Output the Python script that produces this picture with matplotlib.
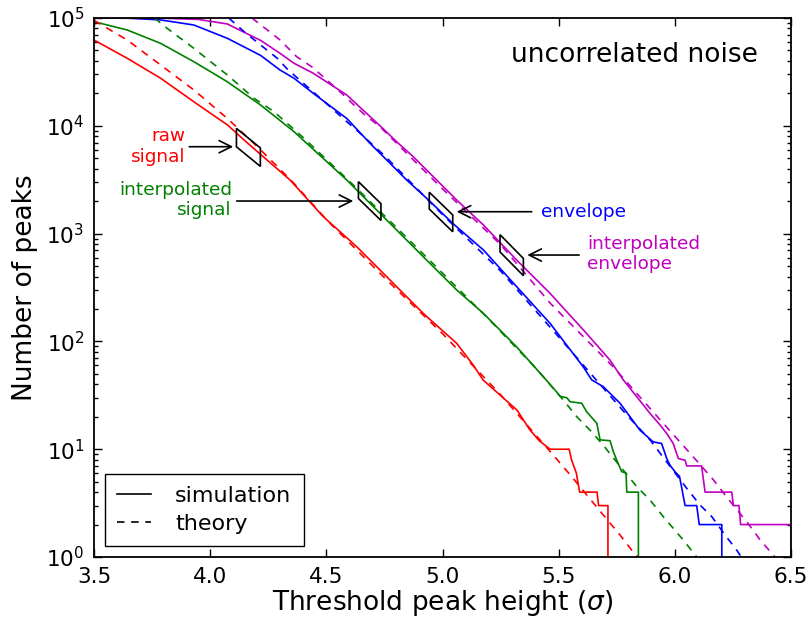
import numpy as np
import matplotlib
matplotlib.use("Agg")
import matplotlib.pyplot as plt
from matplotlib.patches import Polygon
from matplotlib.lines import Line2D

# simulation curves (solid)
raw_x = [3.50, 3.643, 3.787, 3.930, 4.074, 4.146, 4.344, 4.487, 4.631, 4.774, 4.917,
         5.061, 5.133, 5.174, 5.321, 5.377, 5.416, 5.463, 5.545, 5.555, 5.576, 5.59,
         5.665, 5.672, 5.712, 5.73]
raw_y = [62500, 42300, 27600, 16700, 10200, 7380, 3140, 1435, 755, 371, 182,
         96, 60, 44, 23, 15, 12, 10, 10, 8, 6, 4,
         4, 3, 3, 0]

isig_x = [3.50, 3.643, 3.787, 3.930, 4.074, 4.217, 4.361, 4.588, 4.774, 4.917, 5.061,
          5.176, 5.319, 5.434, 5.491, 5.506, 5.535, 5.549, 5.599, 5.62, 5.664, 5.678,
          5.721, 5.735, 5.75, 5.771, 5.79, 5.793, 5.843, 5.853]
isig_y = [92500, 77400, 58200, 39300, 25600, 15600, 8820, 3140, 1245, 611, 300,
          182, 89, 47, 34, 31, 30, 27.6, 26.7, 22.3, 17.4, 12.2,
          12, 9.5, 7.9, 6.2, 6, 4, 4, 0]

env_x = [3.50, 3.65, 3.787, 3.93, 4.074, 4.217, 4.30, 4.361, 4.444, 4.588, 4.688,
         4.731, 4.846, 4.943, 5.044, 5.176, 5.319, 5.463, 5.606, 5.642, 5.692, 5.764,
         5.807, 5.85, 5.907, 5.943, 5.965, 5.979, 6.0, 6.02, 6.044, 6.094, 6.105,
         6.202, 6.212]
env_y = [99900, 99500, 96000, 86100, 64800, 45000, 33000, 27600, 20000, 11700, 6880,
         5560, 3140, 2020, 1245, 705, 322, 147, 58, 44, 38, 26.7,
         20, 15, 11.7, 11.3, 8.2, 7.1, 6.2, 5.6, 3, 3, 2,
         2, 0]

ienv_x = [3.50, 3.80, 3.95, 4.074, 4.217, 4.301, 4.361, 4.444, 4.588, 4.731, 4.81,
          4.874, 5.061, 5.176, 5.319, 5.463, 5.606, 5.721, 5.75, 5.778, 5.836, 5.893,
          5.936, 5.965, 5.993, 6.015, 6.044, 6.051, 6.115, 6.13, 6.245, 6.252, 6.276,
          6.283, 6.5, 6.5]
ienv_y = [100000, 99500, 97000, 88000, 62000, 47000, 38000, 30700, 19300, 10000, 6880,
          5170, 2050, 1202, 569, 279, 128, 67, 54, 44, 30.7, 21.5,
          16.8, 14, 11.3, 8.2, 7.9, 7, 7, 4, 4, 3, 3,
          2, 2, 0]

# theory curves (dashed)
raw_th_x = [3.50, 3.643, 3.787, 3.930, 4.074, 4.20, 4.35, 4.5, 4.75, 5.0, 5.25,
            5.477, 5.549, 5.621, 5.692, 5.764, 5.814, 5.85]
raw_th_y = [95000, 62500, 36600, 21500, 11700, 6500, 3100, 1350, 390, 118, 32,
            8.8, 5.8, 3.76, 2.45, 1.6, 1.16, 0.95]

isig_th_x = [3.76, 3.815, 3.930, 4.074, 4.189, 4.275, 4.40, 4.60, 4.80, 5.0, 5.2,
             5.4, 5.52, 5.578, 5.635, 5.692, 5.743, 5.836, 5.893, 5.95, 6.036, 6.094, 6.12]
isig_th_y = [100000, 80200, 52300, 29600, 18000, 13500, 7800, 3050, 1150, 430, 160,
             57, 28.6, 20, 15, 10.9, 7.9, 4.5, 3.38, 2.37, 1.44, 1.0, 0.85]

env_th_x = [4.08, 4.146, 4.217, 4.289, 4.329, 4.401, 4.459, 4.516, 4.58, 4.638, 4.75,
            5.0, 5.25, 5.5, 5.793, 5.893, 6.051, 6.108, 6.159, 6.216, 6.266, 6.30]
env_th_y = [100000, 74700, 56200, 42300, 34100, 24800, 19300, 15000, 11300, 8810, 5300,
            1500, 450, 110, 20.8, 12.2, 4.34, 3.04, 2.37, 1.6, 1.16, 0.9]

ienv_th_x = [4.18, 4.246, 4.301, 4.372, 4.437, 4.494, 4.559, 4.616, 4.666, 4.731, 5.0,
             5.25, 5.463, 5.735, 5.95, 6.008, 6.065, 6.166, 6.223, 6.317, 6.367, 6.424, 6.45]
ienv_th_y = [100000, 77400, 62500, 43800, 35300, 27600, 20700, 15800, 12600, 9800, 2600,
             790, 227, 58, 17.4, 12.6, 9.2, 5.2, 3.6, 2.02, 1.44, 1.04, 0.9]

red = '#ff0000'
green = '#008000'
blue = '#0000ff'
magenta = '#bf00bf'

fig = plt.figure(figsize=(8.09, 6.17), dpi=100)
ax = fig.add_axes([0.1162, 0.0972, 0.8616, 0.8736])
ax.set_yscale('log')

lw = 1.2
dash = (0, (4.5, 4))
for x, y, c in [(raw_x, raw_y, red), (isig_x, isig_y, green),
                (env_x, env_y, blue), (ienv_x, ienv_y, magenta)]:
    ax.plot(x, y, color=c, lw=lw)
for x, y, c in [(raw_th_x, raw_th_y, red), (isig_th_x, isig_th_y, green),
                (env_th_x, env_th_y, blue), (ienv_th_x, ienv_th_y, magenta)]:
    ax.plot(x, y, color=c, lw=lw, linestyle=dash)

ax.set_xlim(3.5, 6.5)
ax.set_ylim(1, 1e5)
ax.set_xticks([3.5, 4.0, 4.5, 5.0, 5.5, 6.0, 6.5])
ax.set_xticklabels(['3.5', '4.0', '4.5', '5.0', '5.5', '6.0', '6.5'])
ax.tick_params(which='both', direction='in', top=True, right=True, labelsize=15.5, width=1)
ax.tick_params(which='major', length=6, pad=7)
ax.tick_params(which='minor', length=3)
for s in ax.spines.values():
    s.set_linewidth(1.3)

ax.set_xlabel(r'Threshold peak height ($\sigma$)', fontsize=19, labelpad=1)
ax.set_ylabel('Number of peaks', fontsize=19, labelpad=6)

ax.text(0.952, 0.931, 'uncorrelated noise', transform=ax.transAxes,
        ha='right', va='center', fontsize=19)

# parallelogram markers: (x0, x1, log-centre left, log-centre right, half height)
boxes = [(4.113, 4.216, 3.891, 3.709, 0.0855),
         (4.638, 4.735, 3.404, 3.200, 0.078),
         (4.943, 5.044, 3.306, 3.095, 0.078),
         (5.2475, 5.348, 2.910, 2.690, 0.080)]
for x0, x1, cl, cr, h in boxes:
    pts = [(x0, 10 ** (cl + h)), (x1, 10 ** (cr + h)),
           (x1, 10 ** (cr - h)), (x0, 10 ** (cl - h))]
    ax.add_patch(Polygon(pts, closed=True, fill=False, edgecolor='k', lw=1.2, zorder=5))

# arrows: (start x, end x, y)
arrows = [(3.910, 4.099, 6400), (4.114, 4.616, 2006),
          (5.384, 5.061, 1596), (5.588, 5.365, 633)]
for xs, xe, y in arrows:
    ax.annotate('', xy=(xe, y), xytext=(xs, y),
                arrowprops=dict(arrowstyle='->', color='k', lw=1.2,
                                mutation_scale=22, shrinkA=0, shrinkB=0))

ax.text(3.892, 6400, 'raw\nsignal', color=red, ha='right', va='center',
        multialignment='right', fontsize=13.3)
ax.text(4.093, 2050, 'interpolated\nsignal', color=green, ha='right', va='center',
        multialignment='right', fontsize=13.3)
ax.text(5.423, 1596, 'envelope', color=blue, ha='left', va='center', fontsize=13.3)
ax.text(5.621, 647, 'interpolated\nenvelope', color=magenta, ha='left', va='center',
        multialignment='left', fontsize=13.3)

handles = [Line2D([], [], color='k', lw=lw),
           Line2D([], [], color='k', lw=lw, linestyle=dash)]
leg = ax.legend(handles, ['simulation', 'theory'], loc='lower left', fontsize=16,
                fancybox=False, framealpha=1, edgecolor='k', handlelength=1.5,
                handletextpad=1.1, labelspacing=0.35, borderaxespad=0.5,
                borderpad=0.55)
leg.get_frame().set_linewidth(1.0)

fig.savefig('out.png', dpi=100, facecolor='white')
